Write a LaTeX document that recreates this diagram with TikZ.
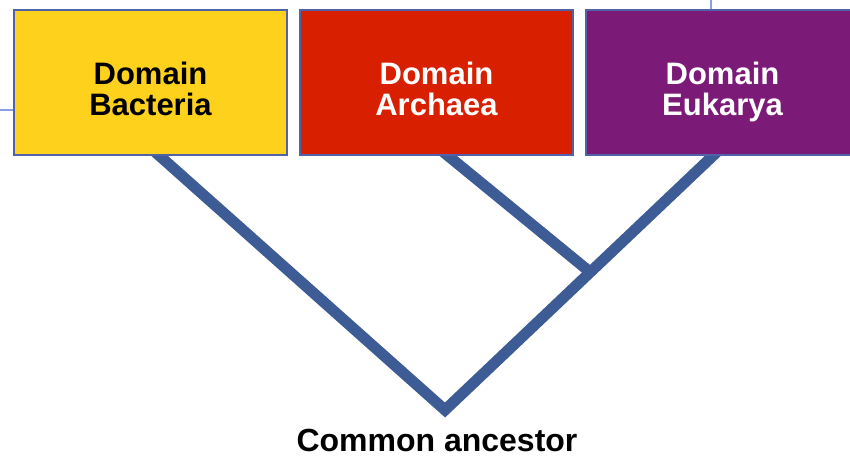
\documentclass[tikz,border=0pt]{standalone}
\usepackage{fontspec}
\usetikzlibrary{calc}
\setmainfont{Liberation Sans}

\definecolor{bactyellow}{HTML}{FDD11C}
\definecolor{archred}{HTML}{D82000}
\definecolor{eukpurple}{HTML}{7C1B77}
\definecolor{edgeblue}{HTML}{5262A8}
\definecolor{treeblue}{HTML}{3D5B94}
\definecolor{strayblue}{HTML}{8C9EE6}

\newcommand{\BoxW}{273}
\newcommand{\BoxH}{145}

\tikzset{
  domainbox/.style={draw=edgeblue, line width=2pt, rectangle, inner sep=0pt,
    minimum width=\BoxW pt, minimum height=\BoxH pt},
  domaintext/.style={align=center, text depth=0pt, font=\bfseries\fontsize{31}{31}\selectfont},
  branch/.style={treeblue, line width=11pt}
}

\begin{document}
\begin{tikzpicture}[x=1pt,y=-1pt]
\clip (0,0) rectangle (850,459);
\fill[white] (0,0) rectangle (850,459);

% stray guide lines at the edges
\coordinate (S1) at (0,110);
\coordinate (S2) at (14,110);
\coordinate (S3) at (711,0);
\coordinate (S4) at (711,10);
\draw[strayblue, line width=1.5pt] (S1) -- (S2);
\draw[strayblue, line width=1.5pt] (S3) -- (S4);

% tree
\coordinate (root) at (445,410);
\coordinate (bacttop) at (153,150);
\coordinate (archtop) at (441,150);
\coordinate (euktop) at (719,150);
\coordinate (fork) at ($(root)!0.53!(euktop)$);
\draw[branch] (bacttop) -- (root) -- (euktop);% outer V
\draw[branch] (archtop) -- (fork);% Archaea branch

% domain boxes
\node[domainbox, fill=bactyellow] (bact) at (150.5,82.5) {};
\node[domainbox, fill=archred] (arch) at (436.5,82.5) {};
\node[domainbox, fill=eukpurple] (euk) at (722.5,82.5) {};

\node[domaintext, text=black] (bactlabel) at ([yshift=-6pt]bact.center) {Domain\\Bacteria};
\node[domaintext, text=white] (archlabel) at ([yshift=-6pt]arch.center) {Domain\\Archaea};
\node[domaintext, text=white] (euklabel) at ([yshift=-6pt]euk.center) {Domain\\Eukarya};

\node[font=\bfseries\fontsize{32}{34}\selectfont, text depth=0pt] (ancestor) at (437,440) {Common ancestor};
\end{tikzpicture}
\end{document}
